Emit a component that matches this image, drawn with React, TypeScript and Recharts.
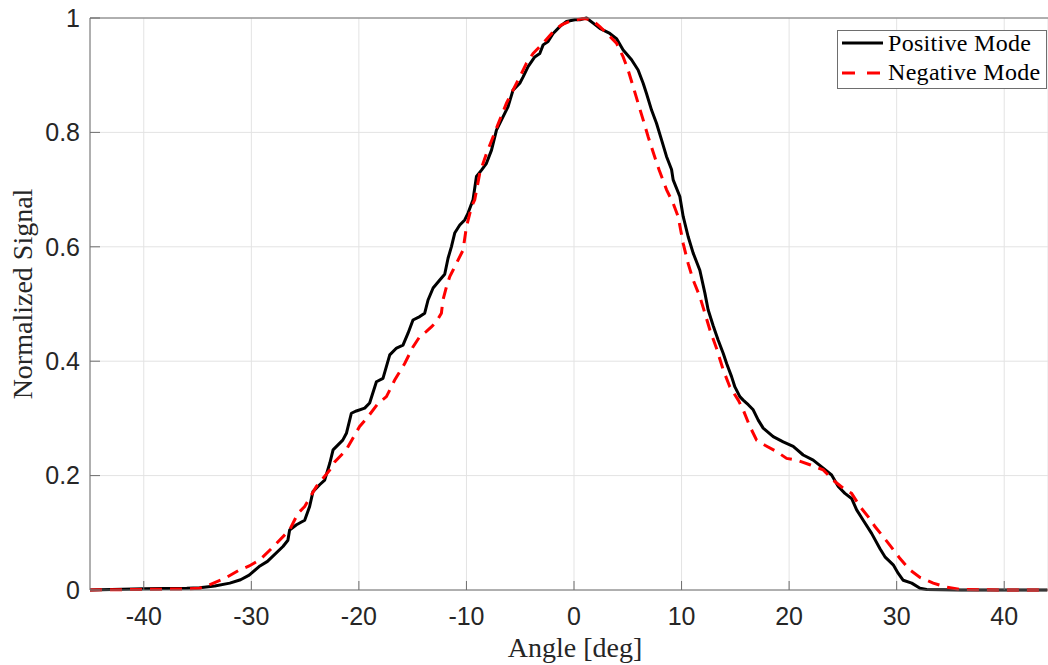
import React from "react";
import { LineChart, Line, XAxis, YAxis, CartesianGrid, Legend } from "recharts";

// values
const positiveAngle = [
  -45, -40, -36, -34.8, -33.4, -32, -31, -30.2, -29.2, -28.5, -27.06, -26.6, -26.44, -25.8, -25.04, -24.58,
  -24.27, -23.65, -23.18, -22.7, -22.4, -21.5, -21.16, -20.7, -20.23, -19.46, -19.0, -18.37, -17.76, -17.13,
  -16.5, -15.9, -15.43, -14.97, -14.34, -13.88, -13.57, -13.1, -12.48, -12.02, -11.71, -11.4, -11.09, -10.62,
  -10.16, -9.85, -9.39, -9.07, -8.6, -8.14, -7.67, -7.21, -6.74, -6.13, -5.67, -5.04, -4.73, -4.27, -3.65,
  -3.18, -2.87, -2.41, -1.94, -1.32, -0.7, 0.07, 0.54, 1.16, 1.78, 2.4, 3.33, 3.95, 4.57, 5.35, 5.96, 6.43,
  6.74, 7.21, 7.67, 8.14, 8.6, 9.07, 9.22, 9.84, 10.15, 10.61, 11.08, 11.7, 12.17, 12.47, 12.94, 13.4, 13.87,
  14.19, 14.65, 14.96, 15.42, 15.73, 16.2, 16.66, 17.13, 17.59, 18.52, 19.45, 20.38, 21.31, 22.24, 23.17,
  23.95, 24.57, 25.19, 25.81, 26.28, 26.89, 27.67, 28.45, 28.91, 29.68, 30.15, 30.61, 31.4, 32.17, 32.79, 36,
  40, 44,
];
const positiveSignal = [
  0, 0.002, 0.003, 0.004, 0.007, 0.012, 0.018, 0.026, 0.042, 0.05, 0.076, 0.087, 0.105, 0.114, 0.122, 0.146,
  0.172, 0.184, 0.192, 0.222, 0.245, 0.262, 0.274, 0.309, 0.313, 0.318, 0.327, 0.364, 0.37, 0.411,
  0.423, 0.428, 0.449, 0.472, 0.478, 0.484, 0.507, 0.528, 0.542, 0.552, 0.58, 0.6, 0.624, 0.638,
  0.647, 0.659, 0.682, 0.723, 0.734, 0.746, 0.769, 0.804, 0.822, 0.845, 0.874, 0.886, 0.897, 0.915, 0.932,
  0.938, 0.953, 0.959, 0.973, 0.985, 0.994, 0.997, 0.997, 1.0, 0.991, 0.982, 0.973, 0.964, 0.944, 0.927, 0.909, 0.886,
  0.868, 0.839, 0.816, 0.787, 0.758, 0.735, 0.717, 0.688, 0.653, 0.618, 0.589, 0.559, 0.519, 0.49, 0.462, 0.437, 0.414,
  0.396, 0.373, 0.355, 0.338, 0.332, 0.324, 0.315, 0.297, 0.283, 0.268, 0.259, 0.251, 0.236, 0.227, 0.213,
  0.201, 0.181, 0.169, 0.16, 0.14, 0.122, 0.099, 0.072, 0.058, 0.044, 0.029, 0.017, 0.012, 0.003, 0.001, 0,
  0, 0,
];

const negativeAngle = [
  -45, -40, -36, -34.8, -33.9, -32.5, -31.1, -30.2, -29.2, -28.1, -26.44, -25.67, -25.04, -23.95, -22.7, -22.25,
  -21.16, -21.0, -19.93, -19.15, -18.22, -17.44, -16.67, -15.74, -14.97, -14.34, -13.72, -13.26, -12.79,
  -12.33, -12.18, -11.86, -11.55, -11.25, -10.32, -10.0, -9.53, -9.23, -8.76, -8.14, -7.53, -6.9, -6.28,
  -5.67, -5.04, -4.42, -3.8, -2.87, -1.94, -1.16, -0.39, 0.23, 0.85, 1.63, 2.4, 3.33, 3.95, 4.57, 5.03, 5.5,
  5.96, 6.43, 6.9, 7.4, 7.9, 8.6, 9.22, 9.68, 10.15, 10.61, 11.08, 11.7, 12.17, 12.63, 13.26, 13.87, 14.49,
  15.27, 15.73, 16.35, 16.98, 17.75, 18.84, 19.77, 20.7, 21.93, 23.17, 24.1, 25.03, 25.81, 26.59, 27.36,
  27.98, 28.75, 29.38, 30.31, 31.24, 32.17, 33.4, 34.65, 35.9, 40, 44,
];
const negativeSignal = [
  0, 0.001, 0.002, 0.003, 0.009, 0.02, 0.035, 0.042, 0.053, 0.073, 0.105, 0.134, 0.146, 0.181, 0.21, 0.224,
  0.245, 0.251, 0.286, 0.303, 0.326, 0.338, 0.367, 0.396, 0.425, 0.443, 0.452, 0.46, 0.469,
  0.484, 0.507, 0.53, 0.548, 0.559, 0.594, 0.635, 0.67, 0.682, 0.729, 0.763, 0.792, 0.822, 0.851,
  0.874, 0.897, 0.921, 0.938, 0.956, 0.976, 0.988, 0.994, 0.997, 0.999, 0.997, 0.985, 0.968, 0.956, 0.932, 0.909, 0.88,
  0.851, 0.822, 0.792, 0.763, 0.735, 0.7, 0.676, 0.653, 0.606, 0.571, 0.542, 0.513, 0.484, 0.455, 0.422, 0.385, 0.355,
  0.332, 0.315, 0.286, 0.262, 0.253, 0.242, 0.23, 0.227, 0.219, 0.21, 0.192, 0.178, 0.169, 0.146, 0.128,
  0.111, 0.093, 0.078, 0.055, 0.035, 0.022, 0.012, 0.005, 0.001, 0, 0,
];

const seriesNames = ["Positive Mode", "Negative Mode"];
const angleTicks = [-40, -30, -20, -10, 0, 10, 20, 30, 40];
const signalTicks = [0, 0.2, 0.4, 0.6, 0.8, 1];

const positiveData = positiveAngle.map((a, i) => ({ angle: a, signal: positiveSignal[i] }));
const negativeData = negativeAngle.map((a, i) => ({ angle: a, signal: negativeSignal[i] }));

const axisGray = "#6e6e6e";
const tickFont = {
  fill: "#262626",
  fontSize: 25,
  fontFamily: "'Liberation Sans', Arial, Helvetica, sans-serif",
};
const serif = "'Liberation Serif', 'Times New Roman', serif";

function LegendBox() {
  return (
    <svg width={211} height={60} style={{ display: "block" }}>
      <rect x={0.5} y={0.5} width={209} height={58} fill="#fff" stroke={axisGray} strokeWidth={1} />
      <line x1={5} x2={46} y1={13} y2={13} stroke="#000" strokeWidth={3} />
      <text x={51} y={21} fontFamily={serif} fontSize={24} letterSpacing={0.3} fill="#000">
        {seriesNames[0]}
      </text>
      <line x1={5} x2={46} y1={43} y2={43} stroke="#ff0000" strokeWidth={3} strokeDasharray="13 12" />
      <text x={51} y={50} fontFamily={serif} fontSize={24} letterSpacing={0.3} fill="#000">
        {seriesNames[1]}
      </text>
    </svg>
  );
}

export default function App() {
  return (
    <div>
      <style>{`body { margin: 0; }`}</style>
      <LineChart width={1048} height={665} margin={{ top: 17, right: 0, bottom: 0, left: 0 }}>
        <CartesianGrid stroke="#e3e3e3" strokeWidth={1} />
        <XAxis
          dataKey="angle"
          type="number"
          domain={[-45, 44.07]}
          ticks={angleTicks}
          allowDataOverflow
          height={75}
          tickSize={-9}
          tickMargin={26}
          tick={tickFont}
          axisLine={{ stroke: axisGray }}
          tickLine={{ stroke: axisGray }}
          label={{
            content: () => (
              <text x={575} y={657} textAnchor="middle" fontFamily={serif} fontSize={28} fill="#262626">
                Angle [deg]
              </text>
            ),
          }}
        />
        <XAxis
          xAxisId="top"
          orientation="top"
          type="number"
          domain={[-45, 44.07]}
          ticks={angleTicks}
          allowDataOverflow
          height={1}
          tickSize={-9}
          tick={() => <g />}
          axisLine={{ stroke: axisGray }}
          tickLine={{ stroke: axisGray }}
        />
        <YAxis
          type="number"
          domain={[0, 1]}
          ticks={signalTicks}
          width={90}
          tickSize={-10}
          tickMargin={20}
          tick={tickFont}
          axisLine={{ stroke: axisGray }}
          tickLine={{ stroke: axisGray }}
          label={{
            content: () => (
              <text
                x={32}
                y={294}
                transform="rotate(-90, 32, 294)"
                textAnchor="middle"
                fontFamily={serif}
                fontSize={28}
                fill="#262626"
              >
                Normalized Signal
              </text>
            ),
          }}
        />
        <Legend
          layout="vertical"
          align="center"
          verticalAlign="middle"
          wrapperStyle={{ left: 837, top: 30, width: 211, height: 60 }}
          content={() => <LegendBox />}
        />
        <Line
          data={positiveData}
          dataKey="signal"
          name={seriesNames[0]}
          type="linear"
          stroke="#000000"
          strokeWidth={3}
          strokeLinejoin="round"
          dot={false}
          activeDot={false}
          isAnimationActive={false}
        />
        <Line
          data={negativeData}
          dataKey="signal"
          name={seriesNames[1]}
          type="linear"
          stroke="#ff0000"
          strokeWidth={3}
          strokeDasharray="12 8"
          dot={false}
          activeDot={false}
          isAnimationActive={false}
        />
      </LineChart>
    </div>
  );
}
